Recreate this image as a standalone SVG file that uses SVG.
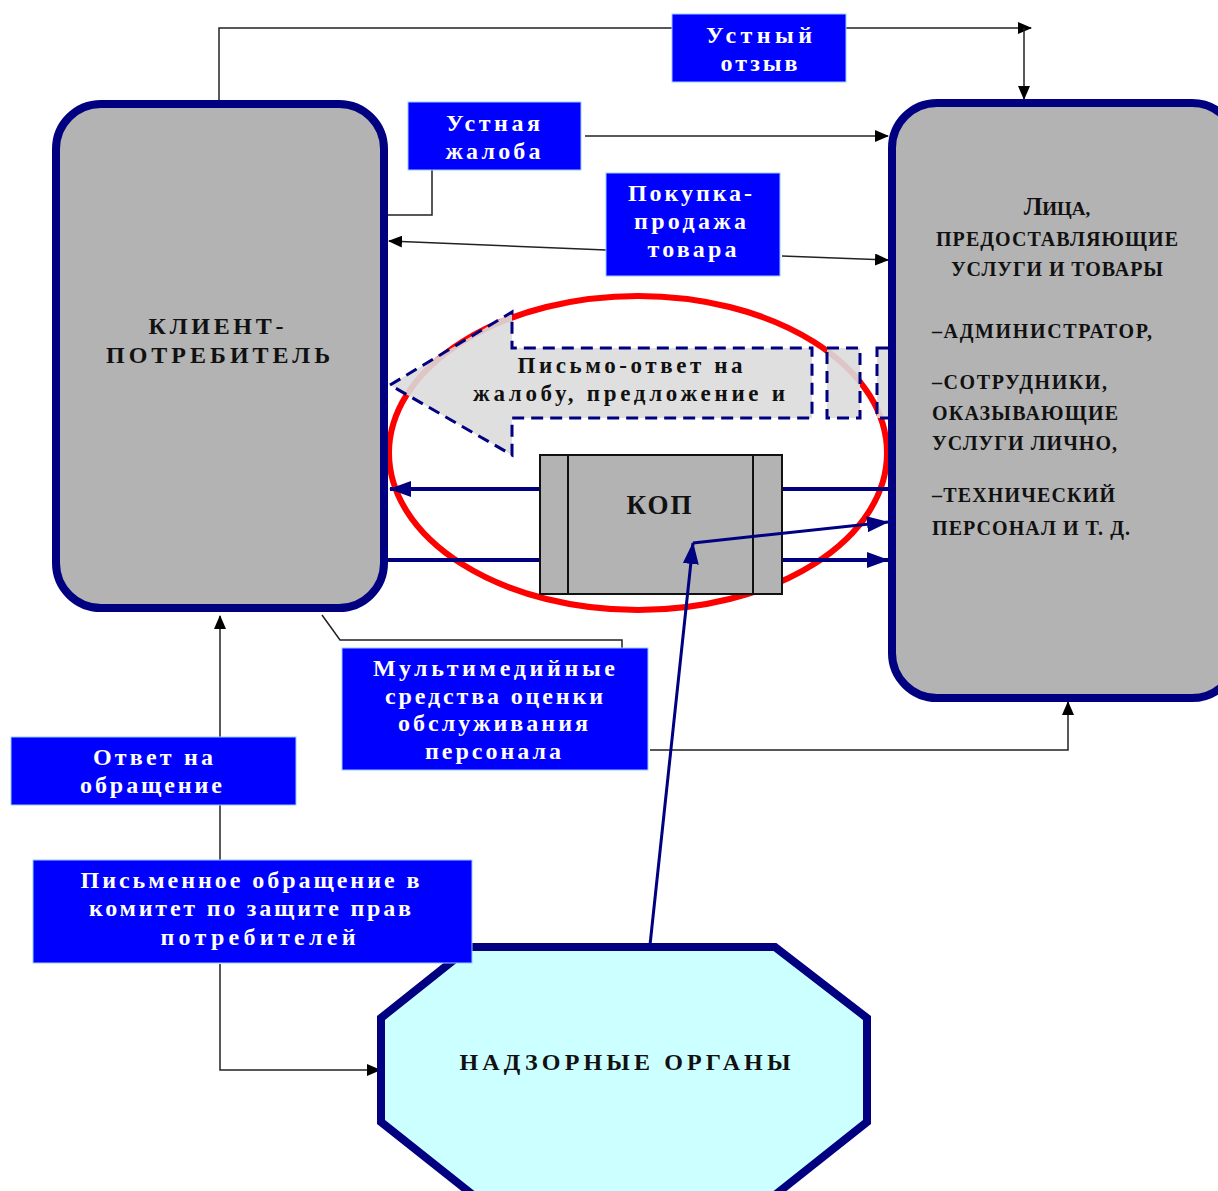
<svg xmlns="http://www.w3.org/2000/svg" width="1218" height="1191" viewBox="0 0 1218 1191">
<style>
.node{fill:#b3b3b3;stroke:#000080;stroke-width:8}
.lbl{fill:#0000ff;stroke:#99ccff;stroke-width:1}
.wt{font-family:"Liberation Serif",serif;font-weight:bold;font-size:24px;fill:#ffffff;text-anchor:middle}
.bt{font-family:"Liberation Serif",serif;font-weight:bold;fill:#111111;text-anchor:middle}
.lt{font-family:"Liberation Serif",serif;font-weight:bold;font-size:20px;fill:#111111}
.thin{fill:none;stroke:#222222;stroke-width:1.5}
.navy{fill:none;stroke:#000080;stroke-width:4}
</style>
<defs>
<marker id="ab" markerUnits="userSpaceOnUse" markerWidth="14" markerHeight="12" refX="13" refY="6" orient="auto"><path d="M0,0 L14,6 L0,12 z" fill="#000000"/></marker>
<marker id="an" markerUnits="userSpaceOnUse" markerWidth="22" markerHeight="16" refX="21" refY="8" orient="auto"><path d="M0,0 L22,8 L0,16 z" fill="#000080"/></marker>
</defs>

<g id="ellipse">
<ellipse cx="638" cy="453" rx="249" ry="157" fill="#ffffff" stroke="#ff0000" stroke-width="6"/>
</g>

<g id="letter-arrow">
<polygon points="390,385 512,312 512,348 812,348 812,418 512,418 512,455" fill="#dcdcdc" fill-opacity="0.9" stroke="#000080" stroke-width="3" stroke-dasharray="12,7"/>
<rect x="827" y="348" width="33" height="70" fill="#dcdcdc" fill-opacity="0.9" stroke="#000080" stroke-width="3" stroke-dasharray="12,7"/>
<rect x="877" y="348" width="20" height="70" fill="#dcdcdc" fill-opacity="0.9" stroke="#000080" stroke-width="3" stroke-dasharray="12,7"/>
<text class="bt" x="630" y="373" style="font-size:23px" textLength="225" lengthAdjust="spacing">Письмо-ответ на</text>
<text class="bt" x="629" y="401" style="font-size:23px" textLength="312" lengthAdjust="spacing">жалобу, предложение и</text>
</g>

<g id="connectors">
<polyline class="thin" points="219,100 219,28 1031,28" marker-end="url(#ab)"/>
<line class="thin" x1="1024" y1="28" x2="1024" y2="99" marker-end="url(#ab)"/>
<polyline class="thin" points="432,170 432,215 388,215"/>
<line class="thin" x1="585" y1="136" x2="888" y2="136" marker-end="url(#ab)"/>
<line class="thin" x1="606" y1="250" x2="389" y2="241" marker-end="url(#ab)"/>
<line class="thin" x1="782" y1="256" x2="888" y2="260" marker-end="url(#ab)"/>
<polyline class="thin" points="322,615 340,640 622,640 622,648"/>
<polyline class="thin" points="650,750 1068,750 1068,702" marker-end="url(#ab)"/>
<line class="thin" x1="220" y1="737" x2="220" y2="616" marker-end="url(#ab)"/>
<line class="thin" x1="220" y1="805" x2="220" y2="860"/>
<polyline class="thin" points="220,964 220,1070 380,1070" marker-end="url(#ab)"/>
<line class="navy" x1="540" y1="489" x2="390" y2="489" marker-end="url(#an)"/>
<line class="navy" x1="782" y1="489" x2="890" y2="489"/>
<line class="navy" x1="388" y1="560" x2="540" y2="560"/>
<line class="navy" x1="782" y1="560" x2="888" y2="560" marker-end="url(#an)"/>
</g>

<g id="kop">
<rect x="540" y="455" width="242" height="139" fill="#b3b3b3" stroke="#111111" stroke-width="2"/>
<line x1="568" y1="455" x2="568" y2="594" stroke="#111111" stroke-width="2"/>
<line x1="753" y1="455" x2="753" y2="594" stroke="#111111" stroke-width="2"/>
<text class="bt" x="659" y="514" style="font-size:27px" textLength="65" lengthAdjust="spacing">КОП</text>
</g>

<g id="kop-link">
<polyline points="650,945 693,543" fill="none" stroke="#000080" stroke-width="3" marker-end="url(#an)"/>
<line x1="693" y1="543" x2="888" y2="522" stroke="#000080" stroke-width="3" marker-end="url(#an)"/>
</g>

<g id="client">
<rect class="node" x="56" y="104" width="328" height="504" rx="45" ry="45"/>
<text class="bt" x="216" y="334" style="font-size:24px" textLength="135" lengthAdjust="spacing">КЛИЕНТ-</text>
<text class="bt" x="218" y="363" style="font-size:24px" textLength="224" lengthAdjust="spacing">ПОТРЕБИТЕЛЬ</text>
</g>

<g id="providers">
<rect class="node" x="892" y="103" width="345" height="595" rx="45" ry="45"/>
<text class="bt" x="1057" y="215" style="font-size:19px"><tspan style="font-size:25px">Л</tspan>ИЦА,</text>
<text class="bt" x="1057" y="246" style="font-size:20px" textLength="242" lengthAdjust="spacing">ПРЕДОСТАВЛЯЮЩИЕ</text>
<text class="bt" x="1057" y="276" style="font-size:20px" textLength="212" lengthAdjust="spacing">УСЛУГИ И ТОВАРЫ</text>
<text class="lt" x="932" y="338" textLength="220" lengthAdjust="spacing">–АДМИНИСТРАТОР,</text>
<text class="lt" x="932" y="389" textLength="175" lengthAdjust="spacing">–СОТРУДНИКИ,</text>
<text class="lt" x="932" y="420" textLength="186" lengthAdjust="spacing">ОКАЗЫВАЮЩИЕ</text>
<text class="lt" x="932" y="450" textLength="185" lengthAdjust="spacing">УСЛУГИ ЛИЧНО,</text>
<text class="lt" x="932" y="502" textLength="183" lengthAdjust="spacing">–ТЕХНИЧЕСКИЙ</text>
<text class="lt" x="932" y="535" textLength="198" lengthAdjust="spacing">ПЕРСОНАЛ И Т. Д.</text>
</g>

<g id="supervisors">
<polygon points="470,947 775,947 867,1018 867,1122 775,1195 473,1195 381,1122 381,1018" fill="#ccffff" stroke="#000080" stroke-width="8"/>
<text class="bt" x="625" y="1070" style="font-size:24px" textLength="331" lengthAdjust="spacing">НАДЗОРНЫЕ ОРГАНЫ</text>
</g>

<g id="oral-review">
<rect class="lbl" x="672" y="14" width="174" height="68"/>
<text class="wt" x="759" y="43" textLength="106" lengthAdjust="spacing">Устный</text>
<text class="wt" x="759" y="71" textLength="77" lengthAdjust="spacing">отзыв</text>
</g>

<g id="oral-complaint">
<rect class="lbl" x="408" y="102" width="173" height="68"/>
<text class="wt" x="493" y="131" textLength="94" lengthAdjust="spacing">Устная</text>
<text class="wt" x="493" y="159" textLength="95" lengthAdjust="spacing">жалоба</text>
</g>

<g id="purchase">
<rect class="lbl" x="606" y="173" width="174" height="103"/>
<text class="wt" x="690" y="201" textLength="124" lengthAdjust="spacing">Покупка-</text>
<text class="wt" x="690" y="229" textLength="112" lengthAdjust="spacing">продажа</text>
<text class="wt" x="692" y="257" textLength="89" lengthAdjust="spacing">товара</text>
</g>

<g id="multimedia">
<rect class="lbl" x="342" y="648" width="306" height="122"/>
<text class="wt" x="494" y="676" textLength="242" lengthAdjust="spacing">Мультимедийные</text>
<text class="wt" x="494" y="704" textLength="218" lengthAdjust="spacing">средства оценки</text>
<text class="wt" x="493" y="731" textLength="190" lengthAdjust="spacing">обслуживания</text>
<text class="wt" x="493" y="759" textLength="136" lengthAdjust="spacing">персонала</text>
</g>

<g id="reply">
<rect class="lbl" x="11" y="737" width="285" height="68"/>
<text class="wt" x="153" y="765" textLength="120" lengthAdjust="spacing">Ответ на</text>
<text class="wt" x="151" y="793" textLength="142" lengthAdjust="spacing">обращение</text>
</g>

<g id="written-appeal">
<rect class="lbl" x="33" y="860" width="439" height="103"/>
<text class="wt" x="250" y="888" textLength="339" lengthAdjust="spacing">Письменное обращение в</text>
<text class="wt" x="250" y="916" textLength="322" lengthAdjust="spacing">комитет по защите прав</text>
<text class="wt" x="258" y="945" textLength="195" lengthAdjust="spacing">потребителей</text>
</g>
</svg>
